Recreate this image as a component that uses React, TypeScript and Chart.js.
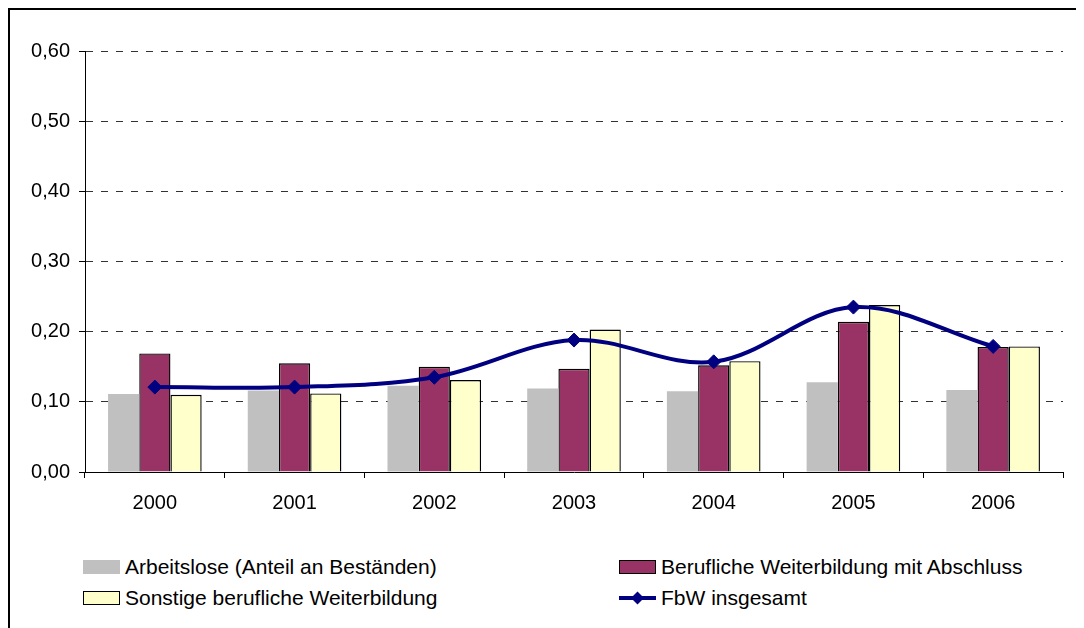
import React, { useEffect, useRef } from "react";
import { Chart, registerables } from "chart.js";

Chart.register(...registerables);

const years = ["2000", "2001", "2002", "2003", "2004", "2005", "2006"];
const arbeitslose = [0.111, 0.116, 0.123, 0.119, 0.115, 0.128, 0.117];
const mitAbschluss = [0.169, 0.155, 0.150, 0.147, 0.152, 0.214, 0.178];
const sonstige = [0.110, 0.112, 0.131, 0.203, 0.158, 0.238, 0.179];
const insgesamt = [0.121, 0.121, 0.135, 0.188, 0.157, 0.235, 0.179];

const seriesNames = [
  "Arbeitslose (Anteil an Beständen)",
  "Berufliche Weiterbildung mit Abschluss",
  "Sonstige berufliche Weiterbildung",
  "FbW insgesamt",
];
const yTicks = [0, 0.1, 0.2, 0.3, 0.4, 0.5, 0.6];

const FONT = "'Liberation Sans', Arial, Helvetica, sans-serif";
const GRAY = "#C0C0C0";
const PURPLE = "#993366";
const YELLOW = "#FFFFCC";
const NAVY = "#000080";

function LegendItem({ kind, color, label, left, top }: any) {
  let marker: any;
  if (kind === "line") {
    marker = (
      <svg width="37" height="16" style={{ display: "block" }}>
        <line x1="0" y1="8" x2="37" y2="8" stroke={color} strokeWidth="4" />
        <polygon points="18.5,1.5 25,8 18.5,14.5 12,8" fill={color} />
      </svg>
    );
  } else {
    marker = (
      <div
        style={{
          width: 37,
          height: 14,
          boxSizing: "border-box",
          background: color,
          border: kind === "plain" ? "none" : "1.5px solid #000",
        }}
      />
    );
  }
  return (
    <div
      style={{
        position: "absolute",
        left,
        top,
        height: 24,
        display: "flex",
        alignItems: "center",
        fontFamily: FONT,
        fontSize: 21,
        lineHeight: "24px",
        color: "#000",
        whiteSpace: "nowrap",
      }}
    >
      {marker}
      <span style={{ marginLeft: 5 }}>{label}</span>
    </div>
  );
}

export default function App() {
  const canvasRef = useRef<HTMLCanvasElement | null>(null);

  useEffect(() => {
    if (!canvasRef.current) return;
    const chart = new Chart(canvasRef.current, {
      type: "bar",
      data: {
        labels: years,
        datasets: [
          {
            type: "line",
            label: seriesNames[3],
            data: insgesamt,
            borderColor: NAVY,
            backgroundColor: NAVY,
            borderWidth: 4,
            tension: 0.35,
            pointStyle: "rectRot",
            pointRadius: 7,
            pointBorderWidth: 1,
            pointBackgroundColor: NAVY,
            pointBorderColor: NAVY,
            order: 0,
          } as any,
          {
            label: seriesNames[0],
            data: arbeitslose,
            backgroundColor: GRAY,
            borderWidth: 0,
            order: 1,
          },
          {
            label: seriesNames[1],
            data: mitAbschluss,
            backgroundColor: PURPLE,
            borderColor: "#000",
            borderWidth: 1.4,
            order: 1,
          },
          {
            label: seriesNames[2],
            data: sonstige,
            backgroundColor: YELLOW,
            borderColor: "#000",
            borderWidth: 1.4,
            order: 1,
          },
        ],
      },
      options: {
        animation: false,
        responsive: true,
        maintainAspectRatio: false,
        layout: { padding: { top: 41, right: 21, left: 0, bottom: 0 } },
        datasets: {
          bar: { categoryPercentage: 0.67, barPercentage: 1.0 },
        } as any,
        plugins: {
          legend: { display: false },
          tooltip: { enabled: false },
          title: { display: false },
        },
        scales: {
          x: {
            offset: true,
            grid: {
              offset: true,
              drawOnChartArea: false,
              drawTicks: true,
              tickLength: 6,
              tickColor: "#000",
              tickWidth: 1,
            },
            border: { display: true, color: "#000", width: 1 },
            ticks: {
              color: "#000",
              font: { family: FONT, size: 20 },
              padding: 13,
              maxRotation: 0,
            },
            afterFit: (scale: any) => {
              scale.height = 58;
            },
          },
          y: {
            min: 0,
            max: 0.6,
            afterBuildTicks: (scale: any) => {
              scale.ticks = yTicks.map((v) => ({ value: v }));
            },
            grid: {
              color: "#333",
              lineWidth: 1,
              drawTicks: true,
              tickLength: 6,
              tickColor: "#000",
              tickWidth: 1,
              tickBorderDash: [],
            },
            border: { display: true, color: "#000", width: 1, dash: [7, 8] },
            ticks: {
              color: "#000",
              font: { family: FONT, size: 20 },
              padding: 9,
              callback: (v: any) => Number(v).toFixed(2).replace(".", ","),
            },
            afterFit: (scale: any) => {
              scale.width = 75;
            },
          },
        },
      },
    });
    return () => chart.destroy();
  }, []);

  return (
    <div
      style={{
        position: "relative",
        width: 1074,
        height: 618,
        borderTop: "2px solid #000",
        borderLeft: "2px solid #000",
        overflow: "hidden",
      }}
    >
      <div style={{ position: "relative", width: 1074, height: 520 }}>
        <canvas ref={canvasRef} />
      </div>
      <LegendItem kind="plain" color={GRAY} label={seriesNames[0]} left={73} top={545} />
      <LegendItem kind="box" color={PURPLE} label={seriesNames[1]} left={609} top={545} />
      <LegendItem kind="box" color={YELLOW} label={seriesNames[2]} left={73} top={576} />
      <LegendItem kind="line" color={NAVY} label={seriesNames[3]} left={609} top={576} />
    </div>
  );
}
